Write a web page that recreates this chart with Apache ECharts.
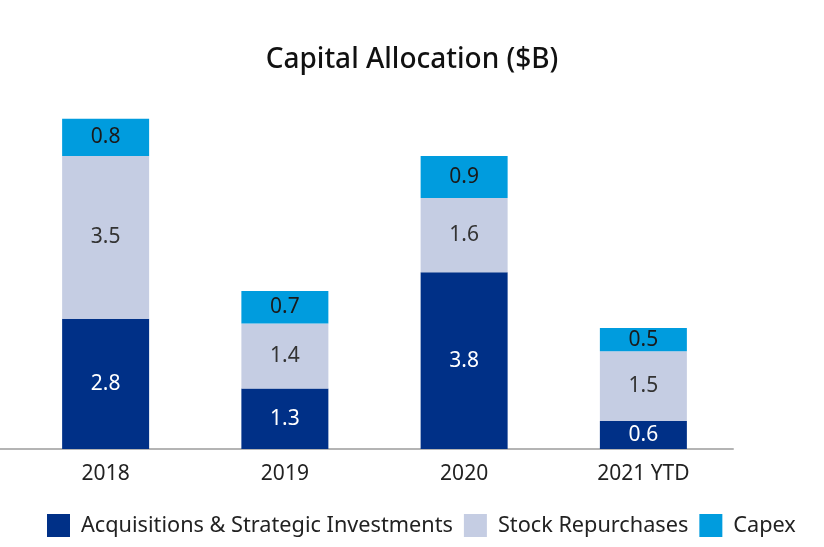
<!DOCTYPE html>
<html>
<head>
<meta charset="utf-8">
<script src="https://cdn.jsdelivr.net/npm/echarts@6/dist/echarts.min.js"></script>
<style>html,body{margin:0;padding:0;background:#fff;}#c{width:824px;height:547px;}</style>
</head>
<body>
<div id="c"></div>
<script>
const categories = ['2018', '2019', '2020', '2021 YTD'];
const acquisitions = [2.8, 1.3, 3.8, 0.6];
const repurchases = [3.5, 1.4, 1.6, 1.5];
const capex = [0.8, 0.7, 0.9, 0.5];

const FONT = '"Noto Sans", sans-serif';
function mk(name, data, color, textColor) {
  return {
    name: name, type: 'bar', stack: 'total', data: data, barWidth: 87,
    itemStyle: { color: color },
    label: { show: true, position: 'inside', color: textColor, fontSize: 21, fontFamily: FONT,
      formatter: p => p.value.toFixed(1) },
    emphasis: { disabled: true }
  };
}
const chart = echarts.init(document.getElementById('c'), null, { renderer: 'canvas' });
chart.setOption({
  animation: false,
  backgroundColor: '#fff',
  title: { text: 'Capital Allocation ($B)', left: 'center', top: 41,
    textStyle: { fontFamily: FONT, fontSize: 28, fontWeight: 500, color: '#111' } },
  grid: { left: 16, right: 91, top: 77, bottom: 98 },
  xAxis: { type: 'category', data: categories,
    axisLine: { lineStyle: { color: '#b4b4b4', width: 2 } },
    axisTick: { show: false },
    axisLabel: { fontFamily: FONT, fontSize: 21, color: '#222', margin: 15 } },
  yAxis: { type: 'value', min: 0, max: 8, show: false, splitLine: { show: false } },
  legend: { bottom: 10, left: 47, padding: 0, itemWidth: 23, itemHeight: 23, itemGap: 11,
    icon: 'rect',
    textStyle: { fontFamily: FONT, fontSize: 21.7, color: '#222', padding: [0, 0, 0, 6] },
    data: ['Acquisitions & Strategic Investments', 'Stock Repurchases', 'Capex'] },
  graphic: [{ type: 'line', z: 0, shape: { x1: 0, y1: 449, x2: 30, y2: 449 },
    style: { stroke: '#b4b4b4', lineWidth: 2 } }],
  series: [
    mk('Acquisitions & Strategic Investments', acquisitions, '#003087', '#ffffff'),
    mk('Stock Repurchases', repurchases, '#c5cde3', '#333333'),
    mk('Capex', capex, '#009cde', '#1a1a1a')
  ]
});
</script>
</body>
</html>
